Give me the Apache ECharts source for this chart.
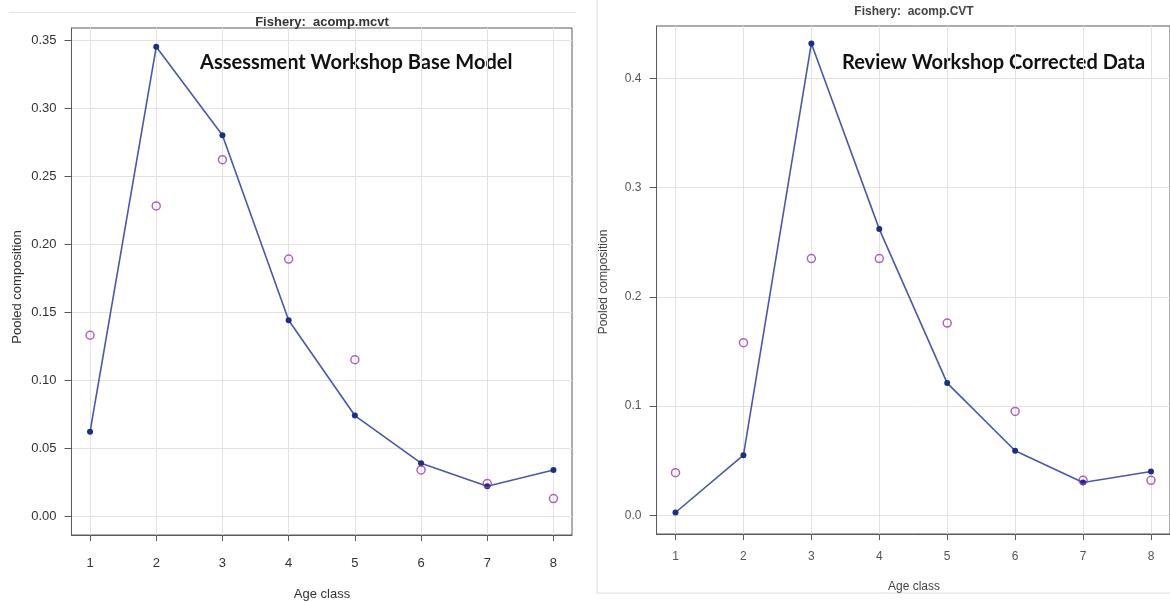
<!DOCTYPE html>
<html>
<head>
<meta charset="utf-8">
<script src="https://cdn.jsdelivr.net/npm/echarts@6/dist/echarts.min.js"></script>
<style>
  html, body { margin: 0; padding: 0; background: #fff; }
  #main { width: 1170px; height: 602px; }
</style>
</head>
<body>
<div id="main"></div>
<script>
// age classes on the x axis
const ages = [1, 2, 3, 4, 5, 6, 7, 8];
// left panel: Assessment Workshop Base Model (acomp.mcvt)
const baseExpected = [0.062, 0.345, 0.280, 0.144, 0.074, 0.039, 0.022, 0.034];
const baseObserved = [0.133, 0.228, 0.262, 0.189, 0.115, 0.034, 0.024, 0.013];
const baseYTicks = [0, 0.05, 0.10, 0.15, 0.20, 0.25, 0.30, 0.35];
// right panel: Review Workshop Corrected Data (acomp.CVT)
const revExpected = [0.0025, 0.055, 0.432, 0.262, 0.121, 0.059, 0.030, 0.040];
const revObserved = [0.039, 0.158, 0.235, 0.235, 0.176, 0.095, 0.032, 0.032];
const revYTicks = [0, 0.1, 0.2, 0.3, 0.4];

const pair = (xs, ys) => xs.map((x, i) => [x, ys[i]]);

const lineColor = '#4a58a8';
const dotColor = '#1c2f80';
const obsColor = '#9b3cb0';
const gridColor = '#e2e2e2';
const boxColor = '#5a5a5a';
const font = 'Liberation Sans, Arial, sans-serif';

function xAxis(gridIndex, fs, color, margin) {
  return {
    type: 'value', gridIndex: gridIndex, min: 0.72, max: 8.28,
    axisLine: { show: true, onZero: false, lineStyle: { color: boxColor } },
    axisTick: { show: true, length: 6, customValues: ages, lineStyle: { color: boxColor } },
    axisLabel: { customValues: ages, fontSize: fs, color: color, fontFamily: font, margin: margin },
    splitLine: { show: true, lineStyle: { color: gridColor } }
  };
}

function yAxis(gridIndex, min, max, ticks, digits, fs, color, margin) {
  return {
    type: 'value', gridIndex: gridIndex, min: min, max: max,
    axisLine: { show: true, lineStyle: { color: boxColor } },
    axisTick: { show: true, length: 7, customValues: ticks, lineStyle: { color: boxColor } },
    axisLabel: { customValues: ticks, fontSize: fs, color: color, fontFamily: font, margin: margin,
      formatter: v => v.toFixed(digits) },
    splitLine: { show: true, lineStyle: { color: gridColor } }
  };
}

function lineSeries(idx, data) {
  return {
    type: 'line', xAxisIndex: idx, yAxisIndex: idx, data: data,
    symbol: 'circle', symbolSize: 6, z: 3,
    lineStyle: { color: lineColor, width: 1.6 },
    itemStyle: { color: dotColor }
  };
}

function obsSeries(idx, data) {
  return {
    type: 'scatter', xAxisIndex: idx, yAxisIndex: idx, data: data,
    symbol: 'circle', symbolSize: 8, z: 4,
    itemStyle: { color: 'rgba(0,0,0,0)', borderColor: obsColor, borderWidth: 1.5 }
  };
}

const chart = echarts.init(document.getElementById('main'), null, { renderer: 'canvas' });

const option = {
  backgroundColor: '#fff',
  animation: false,
  grid: [
    { left: 71.5, top: 28, width: 500.5, height: 507, show: true, borderColor: boxColor, borderWidth: 1, backgroundColor: 'transparent' },
    { left: 656.5, top: 26, width: 514.5, height: 508, show: true, borderColor: boxColor, borderWidth: 1, backgroundColor: 'transparent' }
  ],
  xAxis: [xAxis(0, 13, '#333', 22), xAxis(1, 12, '#555', 17)],
  yAxis: [
    yAxis(0, -0.0138, 0.3588, baseYTicks, 2, 13, '#333', 15),
    yAxis(1, -0.0172, 0.448, revYTicks, 1, 12, '#555', 15)
  ],
  series: [
    lineSeries(0, pair(ages, baseExpected)),
    obsSeries(0, pair(ages, baseObserved)),
    lineSeries(1, pair(ages, revExpected)),
    obsSeries(1, pair(ages, revObserved))
  ],
  graphic: [
    // faint picture frames
    { type: 'line', shape: { x1: 9, y1: 12.5, x2: 576, y2: 12.5 }, style: { stroke: '#e4e4e4', lineWidth: 1 } },
    { type: 'line', shape: { x1: 597, y1: 0, x2: 597, y2: 593 }, style: { stroke: '#dcdcdc', lineWidth: 1 } },
    { type: 'line', shape: { x1: 597, y1: 593, x2: 1170, y2: 593 }, style: { stroke: '#dcdcdc', lineWidth: 1 } },
    // panel titles
    { type: 'text', x: 322, y: 22, style: { text: 'Fishery:  acomp.mcvt', font: 'bold 13px ' + font, fill: '#333', align: 'center', verticalAlign: 'middle' } },
    { type: 'text', x: 914, y: 12, style: { text: 'Fishery:  acomp.CVT', font: 'bold 12px ' + font, fill: '#444', align: 'center', verticalAlign: 'middle' } },
    // axis titles
    { type: 'text', x: 322, y: 594, style: { text: 'Age class', font: '13px ' + font, fill: '#333', align: 'center', verticalAlign: 'middle' } },
    { type: 'text', x: 914, y: 587, style: { text: 'Age class', font: '12px ' + font, fill: '#444', align: 'center', verticalAlign: 'middle' } },
    { type: 'text', x: 17, y: 287, rotation: Math.PI / 2, style: { text: 'Pooled composition', font: '13px ' + font, fill: '#333', align: 'center', verticalAlign: 'middle' } },
    { type: 'text', x: 604, y: 282, rotation: Math.PI / 2, style: { text: 'Pooled composition', font: '12px ' + font, fill: '#444', align: 'center', verticalAlign: 'middle' } },
    // overlay captions
    { type: 'text', x: 200, y: 63, style: { text: 'Assessment Workshop Base Model', font: 'bold 20px Lato, sans-serif', fill: '#111', align: 'left', verticalAlign: 'middle' } },
    { type: 'text', x: 842, y: 63, style: { text: 'Review Workshop Corrected Data', font: 'bold 20px Lato, sans-serif', fill: '#111', align: 'left', verticalAlign: 'middle' } }
  ]
};

chart.setOption(option);
</script>
</body>
</html>
